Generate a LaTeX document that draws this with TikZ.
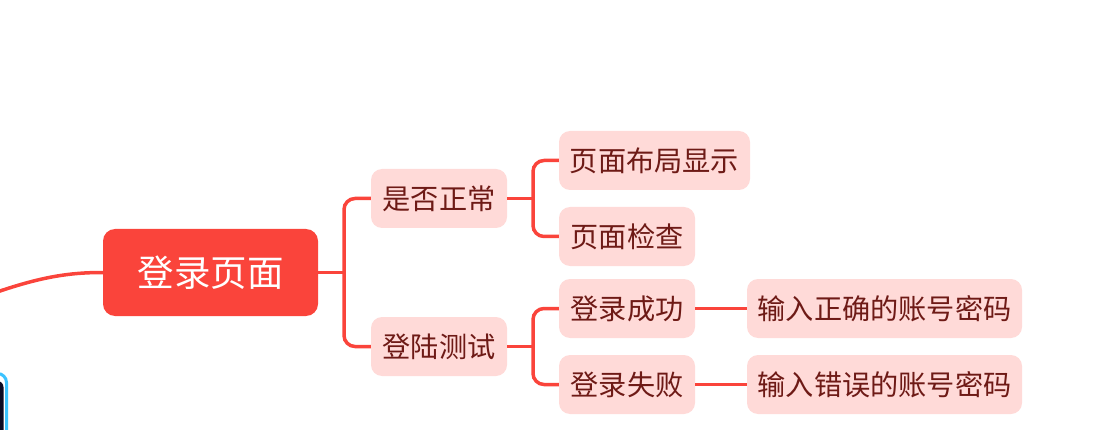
\documentclass[tikz,border=0pt]{standalone}
\usepackage{fontspec}
\setmainfont{Noto Sans CJK SC}
\begin{document}
\definecolor{rootred}{HTML}{FA443B}
\definecolor{lightpink}{HTML}{FFDAD8}
\definecolor{darkred}{HTML}{6E1A16}
\definecolor{skyblue}{HTML}{3CC3FF}
\definecolor{navy}{HTML}{0B0B24}
\begin{tikzpicture}[x=1pt,y=-1pt,
  rootbox/.style={fill=rootred, text=white, rounded corners=12pt, inner sep=0pt,
    minimum width=215pt, minimum height=87pt, font=\fontsize{36.5}{40}\selectfont},
  topicbox/.style={fill=lightpink, text=darkred, rounded corners=11pt, inner sep=0pt,
    minimum height=59pt, font=\fontsize{28.2}{32}\selectfont},
  link/.style={draw=rootred, line width=3.5pt, rounded corners=11pt}
]
\useasboundingbox (0,0) rectangle (1102,430);
\begin{scope}
\clip (0,0) rectangle (1102,430);
% partial blue box at bottom left
\draw[skyblue, line width=3pt, rounded corners=9pt] (-40,373.5) rectangle (6.5,470);
\fill[navy, rounded corners=6pt] (-40,381) rectangle (3.5,470);
% nodes
\node[rootbox] (root) at (210.5,272.5) {登录页面};
\node[topicbox, minimum width=136pt] (a) at (439,198.5) {是否正常};
\node[topicbox, minimum width=136pt] (b) at (439,346.5) {登陆测试};
\node[topicbox, minimum width=191pt] (a1) at (654.5,160.5) {页面布局显示};
\node[topicbox, minimum width=136pt] (a2) at (627,236.5) {页面检查};
\node[topicbox, minimum width=136pt] (b1) at (627,308.5) {登录成功};
\node[topicbox, minimum width=136pt] (b2) at (627,384.5) {登录失败};
\node[topicbox, minimum width=275pt] (b1x) at (884.5,308.5) {输入正确的账号密码};
\node[topicbox, minimum width=275pt] (b2x) at (884.5,384.5) {输入错误的账号密码};
% junctions
\coordinate (jr) at (344,272.5);
\coordinate (ja) at (533,198.5);
\coordinate (jb) at (533,346.5);
\coordinate (incoming) at (-20,298);
% connectors
\draw[rootred, line width=3.5pt] (incoming) .. controls (35,278) and (65,272.5) .. (root.west);
\draw[link] (root.east) -- (jr);
\draw[link] (a.west) -| (jr) |- (b.west);
\draw[link] (a.east) -- (ja);
\draw[link] (a1.west) -| (ja) |- (a2.west);
\draw[link] (b.east) -- (jb);
\draw[link] (b1.west) -| (jb) |- (b2.west);
\draw[link] (b1.east) -- (b1x.west);
\draw[link] (b2.east) -- (b2x.west);
\end{scope}
\end{tikzpicture}
\end{document}
